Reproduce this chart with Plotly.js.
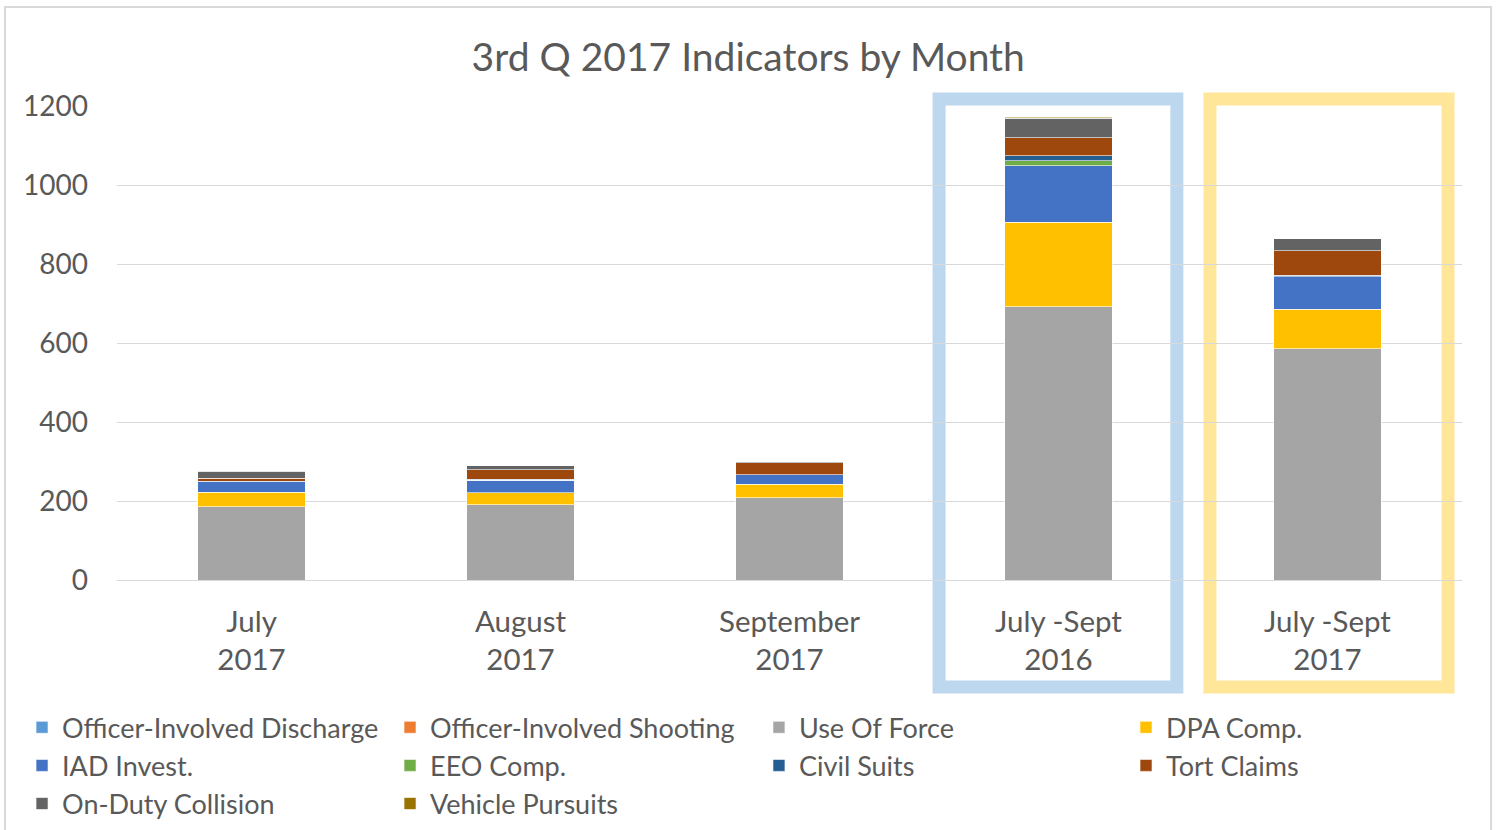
<!DOCTYPE html>
<html>
<head>
<meta charset="utf-8">
<script src="https://cdn.plot.ly/plotly-3.0.1.min.js"></script>
<style>
  html, body { margin: 0; padding: 0; background: #fff; }
  #chart { width: 1501px; height: 830px; }
</style>
</head>
<body>
<div id="chart"></div>
<script>
// categories and values
const periods = ['July<br>2017', 'August<br>2017', 'September<br>2017', 'July -Sept<br>2016', 'July -Sept<br>2017'];

const officerDischarge = [0, 0, 0, 0, 0];
const officerShooting = [0, 0, 0, 0, 0];
const useOfForce = [186, 191, 208, 692, 585];
const dpaComp = [36, 30, 34, 214, 100];
const iadInvest = [27, 32, 24, 143, 83];
const eeoComp = [0, 0, 0, 13, 0];
const civilSuits = [1, 2, 1, 12, 4];
const tortClaims = [8, 24, 30, 46, 62];
const onDutyCollision = [17, 10, 3, 49, 30];
const vehiclePursuits = [0, 0, 0, 3, 0];

const textColor = '#595959';
const fontFamily = 'Lato, "Open Sans", sans-serif';

function bar(name, values, color, legend) {
    return {
        type: 'bar',
        name: name,
        x: periods,
        y: values,
        legend: legend,
        legendgroup: name,
        marker: {
            color: color,
            line: { color: 'rgba(255,255,255,0.6)', width: 1 }
        },
        hoverinfo: 'name+y'
    };
}

// stacking order: first trace sits at the bottom
const data = [
    bar('Officer-Involved Discharge', officerDischarge, '#5b9bd5', 'legend'),
    bar('Officer-Involved Shooting', officerShooting, '#ed7d31', 'legend2'),
    bar('Use Of Force', useOfForce, '#a5a5a5', 'legend3'),
    bar('DPA Comp.', dpaComp, '#ffc000', 'legend4'),
    bar('IAD Invest.', iadInvest, '#4472c4', 'legend'),
    bar('EEO Comp.', eeoComp, '#70ad47', 'legend2'),
    bar('Civil Suits', civilSuits, '#255e91', 'legend3'),
    bar('Tort Claims', tortClaims, '#9e480e', 'legend4'),
    bar('On-Duty Collision', onDutyCollision, '#636363', 'legend'),
    bar('Vehicle Pursuits', vehiclePursuits, '#997300', 'legend2')
];

function legendAt(x) {
    return {
        x: x,
        xanchor: 'left',
        y: -0.26,
        yanchor: 'top',
        orientation: 'v',
        traceorder: 'grouped',
        tracegroupgap: 0,
        bgcolor: 'rgba(0,0,0,0)',
        font: { family: fontFamily, size: 27, color: textColor },
        itemclick: false,
        itemdoubleclick: false
    };
}

const layout = {
    width: 1501,
    height: 830,
    barmode: 'stack',
    bargap: 0.6,
    paper_bgcolor: '#ffffff',
    plot_bgcolor: '#ffffff',
    margin: { l: 117, r: 39, t: 106, b: 250, autoexpand: false },
    font: { family: fontFamily, color: textColor },
    title: {
        text: '3rd Q 2017 Indicators by Month',
        xref: 'container',
        x: 0.4985,
        xanchor: 'center',
        yref: 'container',
        y: 0.931,
        yanchor: 'middle',
        font: { family: fontFamily, size: 39, color: textColor }
    },
    xaxis: {
        type: 'category',
        tickfont: { family: fontFamily, size: 29.5, color: textColor },
        ticks: '',
        ticklabelstandoff: 21,
        showline: false,
        showgrid: false,
        zeroline: false
    },
    yaxis: {
        range: [0, 1200],
        dtick: 200,
        tickfont: { family: fontFamily, size: 28, color: textColor },
        ticks: '',
        ticklabelstandoff: 28,
        gridcolor: '#d9d9d9',
        gridwidth: 1,
        zeroline: true,
        zerolinecolor: '#d9d9d9',
        zerolinewidth: 1,
        showline: false
    },
    legend: legendAt(-0.0706),
    legend2: legendAt(0.2030),
    legend3: legendAt(0.4773),
    legend4: legendAt(0.7502),
    shapes: [
        // highlight frames round the two quarter totals
        {
            type: 'rect', xref: 'x', yref: 'paper',
            x0: 3 - 0.444, x1: 3 + 0.44, y0: -0.2257, y1: 1.0148,
            line: { color: '#bdd7ee', width: 13 },
            layer: 'below'
        },
        {
            type: 'rect', xref: 'x', yref: 'paper',
            x0: 4 - 0.437, x1: 4 + 0.448, y0: -0.2257, y1: 1.0148,
            line: { color: '#ffe699', width: 13 },
            layer: 'below'
        },
        // outer chart border
        {
            type: 'rect', xref: 'paper', yref: 'paper',
            x0: -0.0833, x1: 1.0216, y0: -0.56, y1: 1.2089,
            line: { color: '#d9d9d9', width: 2 },
            layer: 'below'
        }
    ]
};

Plotly.newPlot('chart', data, layout, { displayModeBar: false, responsive: false });
</script>
</body>
</html>
